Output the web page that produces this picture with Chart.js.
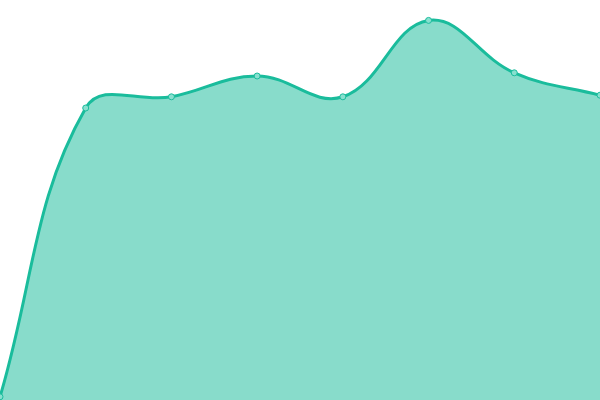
<!DOCTYPE html>
<html>
<head>
<meta charset="utf-8">
<script src="https://cdn.jsdelivr.net/npm/chart.js@4"></script>
<style>
  html, body { margin: 0; padding: 0; background: #fff; }
  #wrap { width: 600px; height: 400px; }
</style>
</head>
<body>
<div id="wrap"><canvas id="areaChart"></canvas></div>
<script>
// chart values
const categories = ['1', '2', '3', '4', '5', '6', '7', '8'];
const seriesValues = [0.8, 73, 75.8, 81, 75.8, 94.9, 81.8, 76.2];
const yMin = 0;
const yMax = 100;

const ctx = document.getElementById('areaChart');
new Chart(ctx.getContext('2d'), {
    type: 'line',
    data: {
        labels: categories,
        datasets: [{
            data: seriesValues,
            borderColor: '#1abc9c',
            backgroundColor: 'rgba(26, 188, 156, 0.52)',
            pointBackgroundColor: '#88e0cf',
            pointBorderColor: '#1abc9c',
            pointBorderWidth: 1,
            pointRadius: 3,
            borderWidth: 3,
            tension: 0.4,
            fill: 'origin'
        }]
    },
    options: {
        responsive: true,
        maintainAspectRatio: false,
        animation: false,
        layout: { padding: 0, autoPadding: false },
        plugins: {
            legend: { display: false },
            tooltip: { enabled: false }
        },
        scales: {
            x: { display: false, offset: false },
            y: { display: false, min: yMin, max: yMax }
        }
    }
});
</script>
</body>
</html>
